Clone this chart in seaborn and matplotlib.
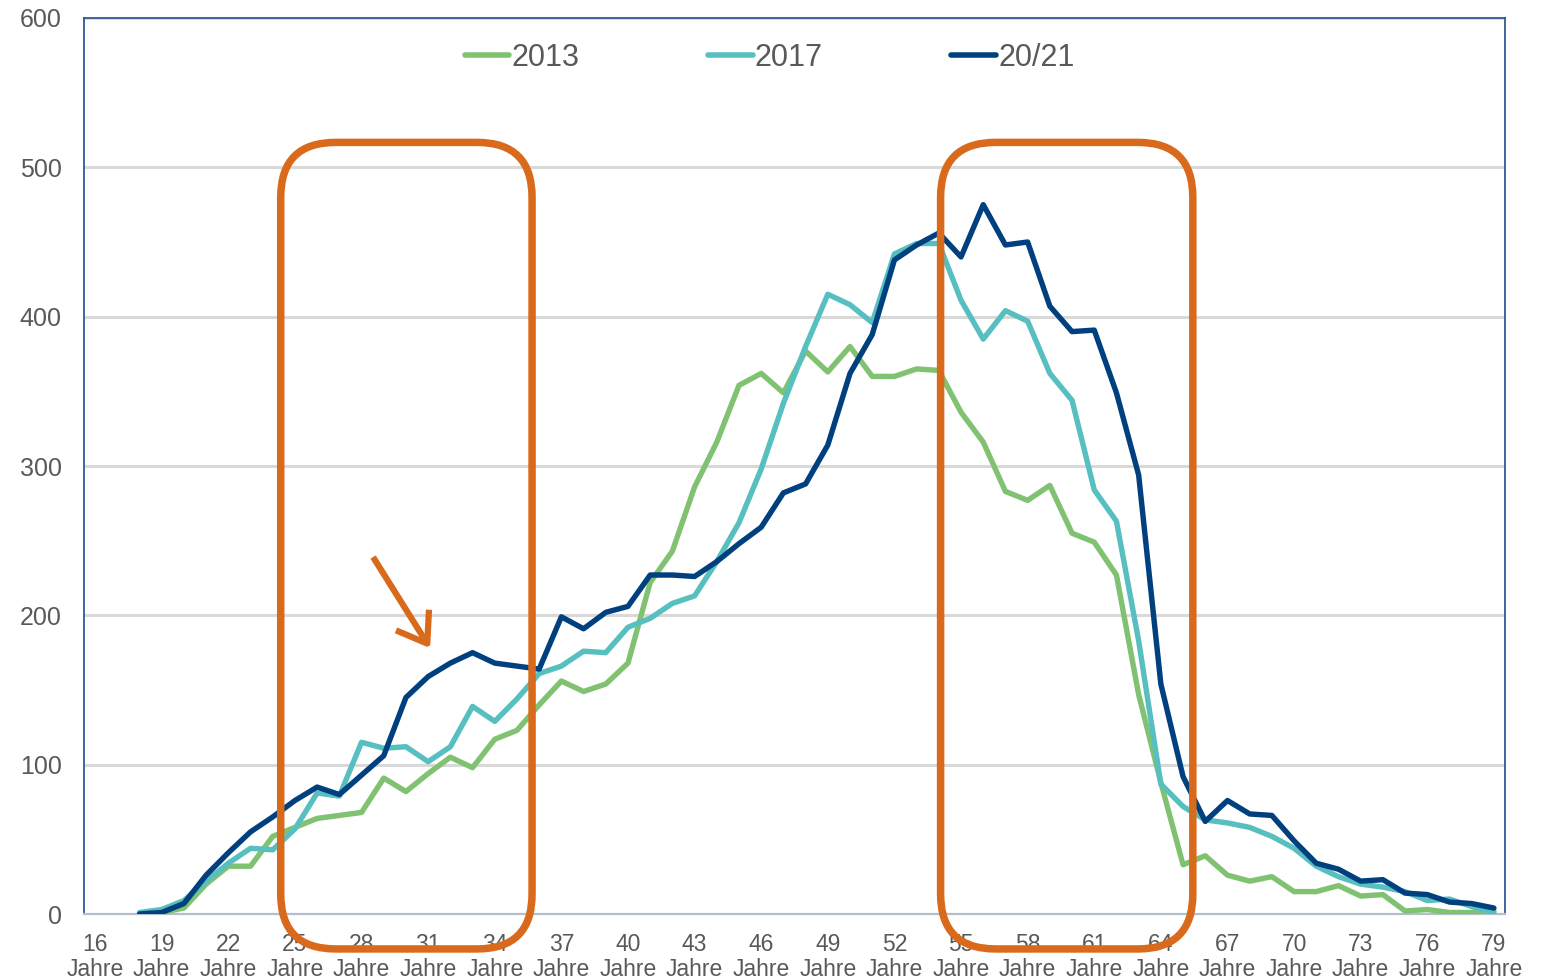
import matplotlib
matplotlib.use("Agg")
import matplotlib.pyplot as plt
import numpy as np
import pandas as pd
import seaborn as sns
from matplotlib.patches import FancyBboxPatch
from matplotlib.transforms import IdentityTransform
from matplotlib.lines import Line2D
from matplotlib import font_manager as fm

# ---------------- data ----------------
ages = list(range(18, 80))
tick_ages = list(range(16, 80, 3))
tick_labels = [f"{a}\nJahre" for a in tick_ages]
series_names = ["2013", "2017", "20/21"]

v2013 = [0, 1, 4, 20, 32, 32, 52, 58, 64, 66, 68, 91, 82, 94, 105, 98, 117, 123, 140, 156,
         149, 154, 168, 222, 243, 286, 316, 354, 362, 349, 377, 363, 380, 360, 360, 365, 364,
         336, 316, 283, 277, 287, 255, 249, 227, 147, 88, 33, 39, 26, 22, 25, 15, 15, 19, 12,
         13, 2, 3, 1, 1, 2]
v2017 = [1, 3, 9, 22, 34, 44, 43, 57, 81, 79, 115, 111, 112, 102, 112, 139, 129, 144, 161, 166,
         176, 175, 192, 198, 208, 213, 236, 262, 298, 342, 380, 415, 408, 396, 442, 449, 449,
         411, 385, 404, 397, 362, 344, 284, 263, 183, 87, 72, 63, 61, 58, 52, 44, 32, 25, 20,
         18, 15, 9, 10, 5, 1]
v2021 = [0, 1, 7, 26, 41, 55, 65, 76, 85, 80, 93, 106, 145, 159, 168, 175, 168, 166, 164, 199,
         191, 202, 206, 227, 227, 226, 236, 248, 259, 282, 288, 314, 362, 388, 438, 448, 456,
         440, 475, 448, 450, 407, 390, 391, 349, 294, 154, 92, 62, 76, 67, 66, 49, 34, 30, 22,
         23, 14, 13, 8, 7, 4]
yticks = [0, 100, 200, 300, 400, 500, 600]

colors = {"2013": "#80C271", "2017": "#58BFC1", "20/21": "#00407F"}
orange = "#DA6A1B"
text_gray = "#595959"

# ---------------- style ----------------
sns.set_theme(style="white")
plt.rcParams["font.family"] = ["Liberation Sans", "DejaVu Sans"]

W, H = 1549, 980
fig = plt.figure(figsize=(W / 100, H / 100), dpi=100)
fig.patch.set_facecolor("white")
ax = fig.add_axes([84 / W, 1 - 914 / H, (1505 - 84) / W, (914 - 18) / H])

df = pd.DataFrame({
    "Alter": ages * 3,
    "Anzahl": v2013 + v2017 + v2021,
    "Jahr": [n for n in series_names for _ in ages],
})
sns.lineplot(data=df, x="Alter", y="Anzahl", hue="Jahr", hue_order=series_names,
             palette=colors, linewidth=3.9, ax=ax, legend=False, zorder=3)

ax.set_xlim(15.5, 79.5)
ax.set_ylim(0, 600)
ax.set_yticks(yticks)
ax.set_yticklabels([str(v) for v in yticks], fontsize=18, color=text_gray)
ax.set_xticks(tick_ages)
ax.set_xticklabels(tick_labels, fontsize=16.5, color=text_gray, linespacing=1.08)
ax.tick_params(axis="both", length=0)
ax.tick_params(axis="x", pad=14)
ax.tick_params(axis="y", pad=16)
ax.set_xlabel("")
ax.set_ylabel("")
ax.yaxis.grid(True, color="#D9D9D9", linewidth=2.2, zorder=0)
ax.xaxis.grid(False)
ax.set_axisbelow(True)
for s in ["left", "top", "right"]:
    ax.spines[s].set_color("#2F5A97")
    ax.spines[s].set_linewidth(1.3)
    ax.spines[s].set_visible(True)
ax.spines["bottom"].set_color("#B4BFCC")
ax.spines["bottom"].set_linewidth(1.6)

# legend
handles = [Line2D([0], [0], color=colors[n], lw=4.0, solid_capstyle="round") for n in series_names]
leg = ax.legend(handles, series_names, loc="center", bbox_to_anchor=(0.4825, 0.9555), ncol=3,
                frameon=False, fontsize=22, handlelength=1.47, handletextpad=0.07,
                columnspacing=4.2, labelcolor=text_gray)

# orange rounded boxes (annotation shapes)
fig.canvas.draw()
def add_box(a0, a1, y0, y1, r=55):
    p0 = ax.transData.transform((a0, y0))
    p1 = ax.transData.transform((a1, y1))
    box = FancyBboxPatch((p0[0], p0[1]), p1[0] - p0[0], p1[1] - p0[1],
                         boxstyle=f"round,pad=0,rounding_size={r}",
                         transform=IdentityTransform(), fill=False, ec=orange, lw=5.4,
                         clip_on=False, zorder=10)
    fig.add_artist(box)

add_box(24.36, 35.68, -23.4, 516.7)
add_box(54.08, 65.44, -23.4, 516.7)

ax.annotate("", xy=(31.09, 178), xytext=(28.52, 239),
            arrowprops=dict(arrowstyle="->,head_length=2.0,head_width=1.4", color=orange,
                            lw=4.5, shrinkA=0, shrinkB=0, mutation_scale=10,
                            capstyle="butt"), zorder=11, annotation_clip=False)

fig.savefig("out.png", dpi=100, facecolor="white")
